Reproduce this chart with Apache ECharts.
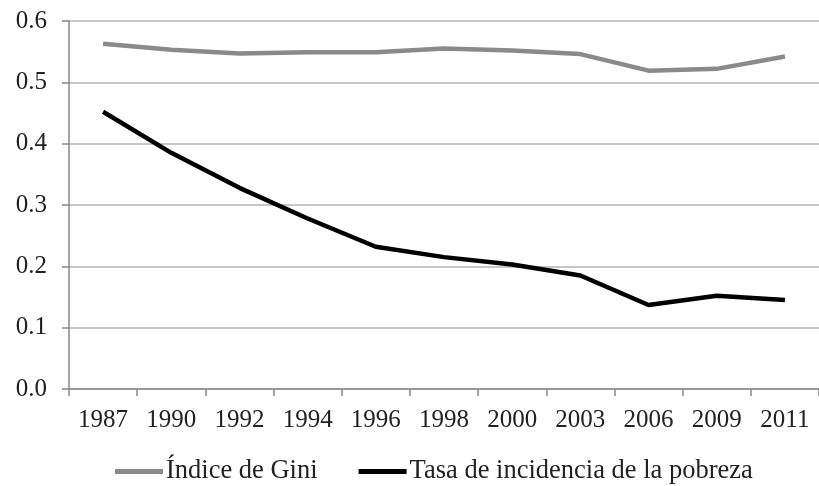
<!DOCTYPE html>
<html><head><meta charset="utf-8">
<script src="https://cdn.jsdelivr.net/npm/echarts@6/dist/echarts.min.js"></script>
<style>html,body{margin:0;padding:0;background:#fff}#c{width:819px;height:486px}</style>
</head><body><div id="c"></div>
<script>
var years = ['1987','1990','1992','1994','1996','1998','2000','2003','2006','2009','2011'];
var gini = [0.563, 0.553, 0.547, 0.549, 0.549, 0.555, 0.552, 0.546, 0.519, 0.522, 0.542];
var pobreza = [0.452, 0.385, 0.328, 0.278, 0.232, 0.215, 0.203, 0.185, 0.137, 0.152, 0.145];
var yTicks = ['0.0','0.1','0.2','0.3','0.4','0.5','0.6'];

var font = 'Liberation Serif';
var chart = echarts.init(document.getElementById('c'));
chart.setOption({
  backgroundColor: '#fff',
  animation: false,
  grid: {left: 69, right: -9, top: 21, bottom: 97, containLabel: false},
  legend: {
    top: 453, left: 110,
    itemWidth: 48, itemHeight: 5, itemGap: 41,
    icon: 'rect',
    textStyle: {fontFamily: font, fontSize: 26.5, color: '#222', padding: [0,0,0,-2]},
    data: ['Índice de Gini', 'Tasa de incidencia de la pobreza']
  },
  xAxis: {
    type: 'category', data: years, boundaryGap: true,
    axisLine: {lineStyle: {color: '#888', width: 1.5}},
    axisTick: {show: true, length: 7, interval: 0, lineStyle: {color: '#888', width: 1.5}},
    axisLabel: {fontFamily: font, fontSize: 25, color: '#222', margin: 19, interval: 0}
  },
  yAxis: {
    type: 'value', min: 0, max: 0.6, interval: 0.1,
    axisLine: {show: true, lineStyle: {color: '#888', width: 1.5}},
    axisTick: {show: true, length: 7, lineStyle: {color: '#888', width: 1.5}},
    splitLine: {lineStyle: {color: '#b4b4b4', width: 1.5}},
    axisLabel: {fontFamily: font, fontSize: 25, color: '#222', margin: 22,
      formatter: function (v) { return yTicks[Math.round(v * 10)]; }}
  },
  series: [
    {name: 'Índice de Gini', type: 'line', data: gini, symbol: 'none',
      itemStyle: {color: '#8a8a8a'}, lineStyle: {color: '#8a8a8a', width: 4.5}},
    {name: 'Tasa de incidencia de la pobreza', type: 'line', data: pobreza, symbol: 'none',
      itemStyle: {color: '#000'}, lineStyle: {color: '#000', width: 4.5}}
  ]
});
</script></body></html>
